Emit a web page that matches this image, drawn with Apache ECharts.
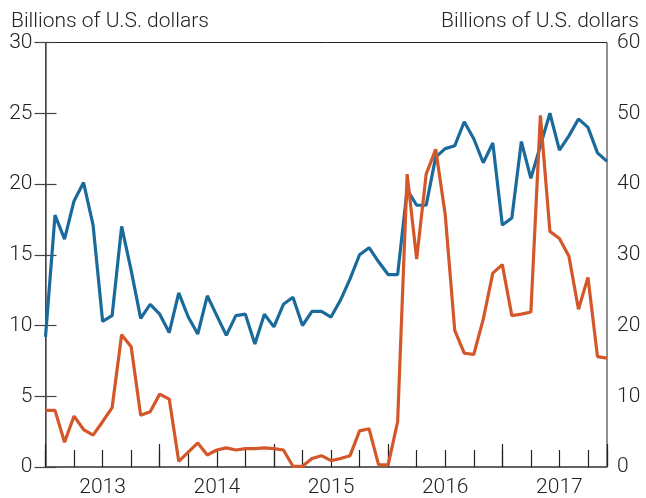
<!DOCTYPE html>
<html>
<head>
<meta charset="utf-8">
<script src="https://cdn.jsdelivr.net/npm/echarts@6/dist/echarts.min.js"></script>
<style>
  html, body { margin: 0; padding: 0; background: #fff; }
  #chart { width: 646px; height: 498px; }
</style>
</head>
<body>
<div id="chart"></div>
<script>
// monthly, Jan 2013 - Dec 2017 (month index 0..59)
let years = ['2013', '2014', '2015', '2016', '2017'];

// blue line, left axis (billions of U.S. dollars)
let blueValues = [
  9.2, 17.8, 16.1, 18.8, 20.1, 17.1, 10.3, 10.7, 17.0, 13.9, 10.5, 11.5,
  10.8, 9.5, 12.3, 10.6, 9.4, 12.1, 10.7, 9.3, 10.7, 10.8, 8.7, 10.8,
  9.9, 11.5, 12.0, 10.0, 11.0, 11.0, 10.6, 11.8, 13.3, 15.0, 15.5, 14.5,
  13.6, 13.6, 19.6, 18.5, 18.5, 21.9, 22.5, 22.7, 24.4, 23.2, 21.5, 22.9,
  17.1, 17.6, 23.0, 20.4, 22.7, 25.0, 22.4, 23.4, 24.6, 24.0, 22.2, 21.6
];

// orange line, right axis (billions of U.S. dollars)
let orangeValues = [
  8.0, 8.0, 3.5, 7.2, 5.3, 4.5, 6.4, 8.4, 18.7, 17.0, 7.3, 7.8,
  10.3, 9.6, 0.8, 2.1, 3.4, 1.7, 2.4, 2.7, 2.4, 2.6, 2.6, 2.7,
  2.6, 2.4, 0.1, 0.1, 1.2, 1.6, 0.9, 1.2, 1.6, 5.1, 5.4, 0.3,
  0.3, 6.4, 41.4, 29.4, 41.4, 44.9, 35.7, 19.3, 16.1, 15.9, 20.9, 27.4,
  28.6, 21.4, 21.6, 21.9, 49.7, 33.3, 32.3, 29.8, 22.3, 26.8, 15.6, 15.4
];

let textColor = '#222';
let fontFamily = 'Roboto';
let fontSize = 21;
let lastMonth = blueValues.length - 1;

let myChart = echarts.init(document.getElementById('chart'));
let option = {
  animation: false,
  title: [
    {text: 'Billions of U.S. dollars', left: 6, top: 6,
     textStyle: {fontSize: fontSize, fontWeight: 300, color: textColor, fontFamily: fontFamily}},
    {text: 'Billions of U.S. dollars', right: 2, top: 6,
     textStyle: {fontSize: fontSize, fontWeight: 300, color: textColor, fontFamily: fontFamily}}
  ],
  grid: {
    left: 45.5, right: 39, top: 42.5, bottom: 29.5,
    show: true, borderColor: '#222', borderWidth: 1
  },
  xAxis: [
    {
      // quarter ticks
      type: 'value', min: 0, max: lastMonth, interval: 3,
      axisLine: {show: true, lineStyle: {color: '#555', width: 1.5}},
      axisTick: {show: true, inside: true, length: 17, lineStyle: {color: '#222', width: 1.2}},
      axisLabel: {show: false},
      splitLine: {show: false}
    },
    {
      // year ticks
      type: 'value', min: 0, max: lastMonth, interval: 12, position: 'bottom',
      axisLine: {show: false},
      axisTick: {show: true, inside: true, length: 23, lineStyle: {color: '#222', width: 1.2}},
      axisLabel: {show: false},
      splitLine: {show: false}
    },
    {
      // year labels at mid-year
      type: 'value', min: 0, max: lastMonth, interval: 6, position: 'bottom',
      axisLine: {show: false},
      axisTick: {show: false},
      axisLabel: {
        showMinLabel: true, showMaxLabel: false,
        formatter: function (v) { return v % 12 === 6 ? years[(v - 6) / 12] : ''; },
        fontSize: fontSize, fontWeight: 300, color: textColor, fontFamily: fontFamily, margin: 10
      },
      splitLine: {show: false}
    }
  ],
  yAxis: [
    {
      // left labels
      type: 'value', min: 0, max: 30, interval: 5, position: 'left',
      axisLine: {show: true, lineStyle: {color: '#222'}},
      axisTick: {show: false},
      axisLabel: {fontSize: fontSize, fontWeight: 300, color: textColor, fontFamily: fontFamily, margin: 13},
      splitLine: {show: false}
    },
    {
      type: 'value', min: 0, max: 60, interval: 10, position: 'right',
      axisLine: {show: true, lineStyle: {color: '#555', width: 1.5}},
      axisTick: {show: true, inside: true, length: 11, lineStyle: {color: '#444', width: 1.2}},
      axisLabel: {fontSize: fontSize, fontWeight: 300, color: textColor, fontFamily: fontFamily, margin: 10},
      splitLine: {show: false}
    },
    {
      // left ticks only
      type: 'value', min: 0, max: 30, interval: 5, position: 'left',
      axisLine: {show: false, onZero: false},
      axisTick: {show: true, inside: true, length: 11, lineStyle: {color: '#444', width: 1.2}},
      axisLabel: {show: false},
      splitLine: {show: false}
    }
  ],
  series: [
    {
      type: 'line', name: 'blue', xAxisIndex: 0, yAxisIndex: 0,
      data: blueValues.map(function (v, i) { return [i, v]; }), showSymbol: false,
      lineStyle: {color: '#1b6a9c', width: 3.2},
      z: 3
    },
    {
      type: 'line', name: 'orange', xAxisIndex: 0, yAxisIndex: 1,
      data: orangeValues.map(function (v, i) { return [i, v]; }), showSymbol: false,
      lineStyle: {color: '#d4572a', width: 3.2},
      z: 4
    }
  ]
};
myChart.setOption(option);
</script>
</body>
</html>
